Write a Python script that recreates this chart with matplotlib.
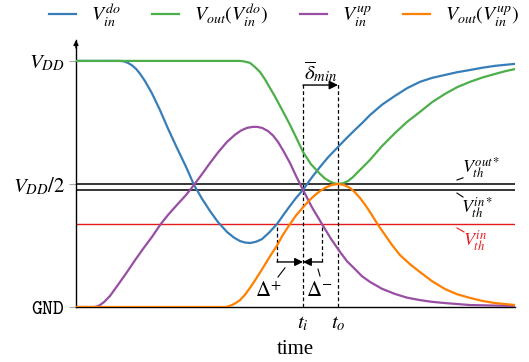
import matplotlib
matplotlib.use("Agg")
import matplotlib.pyplot as plt

plt.rcParams['font.family'] = ['Liberation Serif', 'DejaVu Serif']
plt.rcParams['mathtext.fontset'] = 'stix'

# curves (time in arbitrary units, voltage in VDD units)
t_vin_do = [0, 40, 44, 48, 52, 56, 60, 64, 69, 76, 84, 92, 101, 110, 118, 126, 134,
            142, 151, 158, 164, 169, 174, 180, 186, 193, 201, 207, 214, 220, 227, 235,
            244, 252, 261, 270, 279, 287, 294, 306, 319, 331, 344, 356, 369, 381, 394,
            406, 419, 439]
v_vin_do = [1.0, 1.0, 1.0, 0.998, 0.992, 0.982, 0.968, 0.948, 0.918, 0.868, 0.800, 0.725,
            0.646, 0.57, 0.496, 0.44, 0.39, 0.345, 0.305, 0.282, 0.268, 0.262, 0.260,
            0.265, 0.276, 0.302, 0.337, 0.372, 0.411, 0.443, 0.476, 0.522, 0.569, 0.608,
            0.646, 0.684, 0.720, 0.751, 0.780, 0.822, 0.858, 0.889, 0.915, 0.931, 0.943,
            0.954, 0.963, 0.972, 0.980, 0.988]

t_vout_do = [0, 164, 168, 174, 179, 184, 189, 194, 199, 204, 209, 214, 220, 227, 235,
             244, 249, 254, 258, 262, 267, 272, 277, 282, 288, 294, 306, 319, 331, 344,
             356, 369, 381, 394, 406, 419, 429, 439]
v_vout_do = [1.0, 1.0, 0.998, 0.992, 0.975, 0.955, 0.925, 0.890, 0.855, 0.817, 0.779,
             0.740, 0.690, 0.630, 0.580, 0.541, 0.522, 0.510, 0.503, 0.500, 0.503, 0.512,
             0.528, 0.549, 0.573, 0.598, 0.654, 0.707, 0.752, 0.793, 0.832, 0.866, 0.893,
             0.915, 0.932, 0.947, 0.958, 0.967]

t_vin_up = [0, 18, 21, 24, 28, 34, 42, 51, 59, 67, 76, 84, 92, 101, 110, 118, 126, 134,
            142, 151, 159, 165, 171, 177, 181, 186, 192, 197, 202, 208, 214, 220, 227,
            236, 246, 255, 264, 271, 279, 286, 294, 306, 319, 331, 344, 356, 369, 394, 439]
v_vin_up = [0.0, 0.0, 0.002, 0.008, 0.02, 0.045, 0.09, 0.142, 0.19, 0.236, 0.285, 0.333,
            0.374, 0.415, 0.455, 0.496, 0.54, 0.585, 0.628, 0.671, 0.700, 0.717, 0.728,
            0.732, 0.732, 0.728, 0.715, 0.697, 0.671, 0.630, 0.585, 0.533, 0.476, 0.405,
            0.337, 0.277, 0.224, 0.186, 0.154, 0.125, 0.102, 0.074, 0.053, 0.038, 0.028,
            0.021, 0.016, 0.008, 0.004]

t_vout_up = [0, 149, 152, 156, 160, 164, 169, 174, 179, 184, 189, 194, 201, 207, 214,
             220, 227, 233, 239, 244, 249, 255, 262, 268, 274, 279, 284, 289, 294, 301,
             309, 316, 324, 334, 344, 356, 369, 381, 394, 406, 419, 439]
v_vout_up = [0.0, 0.0, 0.002, 0.008, 0.017, 0.028, 0.05, 0.078, 0.108, 0.140, 0.173,
             0.206, 0.250, 0.294, 0.337, 0.372, 0.405, 0.432, 0.455, 0.471, 0.484, 0.495,
             0.500, 0.496, 0.484, 0.466, 0.443, 0.416, 0.386, 0.340, 0.293, 0.252, 0.211,
             0.174, 0.142, 0.105, 0.073, 0.052, 0.037, 0.025, 0.016, 0.008]

vth_out_star = 0.5
vth_in_star = 0.476
vth_in = 0.337
t_i = 227
t_o = 262
t_dplus = 201
t_dminus = 246

fig = plt.figure(figsize=(5.29, 3.62), dpi=100)
ax = fig.add_axes([76 / 529, 55 / 362, 439 / 529, 267 / 362])

c_blue, c_green, c_purple, c_orange, c_red = '#377eb8', '#4daf4a', '#984ea3', '#ff7f00', '#e41a1c'

# threshold lines
ax.axhline(vth_out_star, color='k', lw=1.1, zorder=1)
ax.axhline(vth_in_star, color='k', lw=1.1, zorder=1)
ax.axhline(vth_in, color=c_red, lw=1.0, zorder=1)

ax.plot(t_vin_do, v_vin_do, color=c_blue, lw=1.6, label=r'$V_{in}^{do}$', zorder=3)
ax.plot(t_vout_do, v_vout_do, color=c_green, lw=1.6, label=r'$V_{out}(V_{in}^{do})$', zorder=3)
ax.plot(t_vin_up, v_vin_up, color=c_purple, lw=1.6, label=r'$V_{in}^{up}$', zorder=3)
ax.plot(t_vout_up, v_vout_up, color=c_orange, lw=1.6, label=r'$V_{out}(V_{in}^{up})$', zorder=3)

dash = (0, (3, 2))
# t_i / t_o markers and delta_min
ax.plot([t_i, t_i], [0, 0.915], color='k', lw=0.9, ls=dash, zorder=2)
ax.plot([t_o, t_o], [0, 0.915], color='k', lw=0.9, ls=dash, zorder=2)
ax.annotate('', xy=(t_o, 0.902), xytext=(t_i, 0.902),
            arrowprops=dict(arrowstyle='-|>', color='k', lw=1.0, mutation_scale=13,
                            shrinkA=0, shrinkB=0))
ax.text((t_i + t_o) / 2, 0.955, r'$\overline{\delta}_{min}$', fontsize=15,
        ha='center', va='center')

# Delta+ / Delta-
y_arr = 0.183
ax.plot([t_dplus, t_dplus], [y_arr, vth_in], color='k', lw=0.9, ls=dash, zorder=2)
ax.plot([t_dminus, t_dminus], [y_arr, vth_in], color='k', lw=0.9, ls=dash, zorder=2)
ax.annotate('', xy=(t_i, y_arr), xytext=(t_dplus, y_arr),
            arrowprops=dict(arrowstyle='-|>', color='k', lw=1.0, mutation_scale=12,
                            shrinkA=0, shrinkB=0))
ax.annotate('', xy=(t_i, y_arr), xytext=(t_dminus, y_arr),
            arrowprops=dict(arrowstyle='-|>', color='k', lw=1.0, mutation_scale=12,
                            shrinkA=0, shrinkB=0))
ax.plot([209, 202], [0.159, 0.122], color='k', lw=0.8)
ax.plot([242, 244], [0.154, 0.126], color='k', lw=0.8)
ax.text(192, 0.062, r'$\Delta^{+}$', fontsize=15, ha='center', va='center')
ax.text(243, 0.062, r'$\Delta^{-}$', fontsize=15, ha='center', va='center')

# threshold labels
ax.plot([381, 387], [0.516, 0.525], color='k', lw=0.8)
ax.plot([381, 387], [0.463, 0.447], color='k', lw=0.8)
ax.plot([381, 388], [0.321, 0.305], color=c_red, lw=0.8)
ax.text(405, 0.565, r'$V_{th}^{out*}$', fontsize=13, ha='center', va='center')
ax.text(401, 0.405, r'$V_{th}^{in*}$', fontsize=13, ha='center', va='center')
ax.text(399, 0.272, r'$V_{th}^{in}$', fontsize=13, ha='center', va='center', color=c_red)

ax.set_xlim(0, 439)
ax.set_ylim(0, 1.085)
ax.spines['top'].set_visible(False)
ax.spines['right'].set_visible(False)
ax.spines['left'].set_linewidth(1.0)
ax.spines['bottom'].set_linewidth(1.0)
ax.annotate('', xy=(0, 1.0), xytext=(0, 0.97), xycoords='axes fraction',
            arrowprops=dict(arrowstyle='-|>', color='k', lw=1.0, mutation_scale=7,
                            shrinkA=0, shrinkB=0))

ax.set_xticks([t_i, t_o])
ax.set_xticklabels([r'$t_i$', r'$t_o$'], fontsize=15)
ax.tick_params(axis='x', length=0, pad=5)
ax.set_yticks([0, 0.5, 1.0])
ax.set_yticklabels([r'$\mathtt{GND}$', r'$V_{DD}/2$', r'$V_{DD}$'], fontsize=15)
ax.get_yticklabels()[0].set_math_fontfamily('cm')
ax.tick_params(axis='y', length=5, color='#aaaaaa', pad=3)
ax.set_xlabel('time', fontsize=15, labelpad=5)

fig.legend(loc='center', bbox_to_anchor=(0.537, 0.958), ncol=4, frameon=False,
           fontsize=14.3, handlelength=1.35, handletextpad=0.75, columnspacing=1.6)

fig.savefig('out.png', dpi=100)
